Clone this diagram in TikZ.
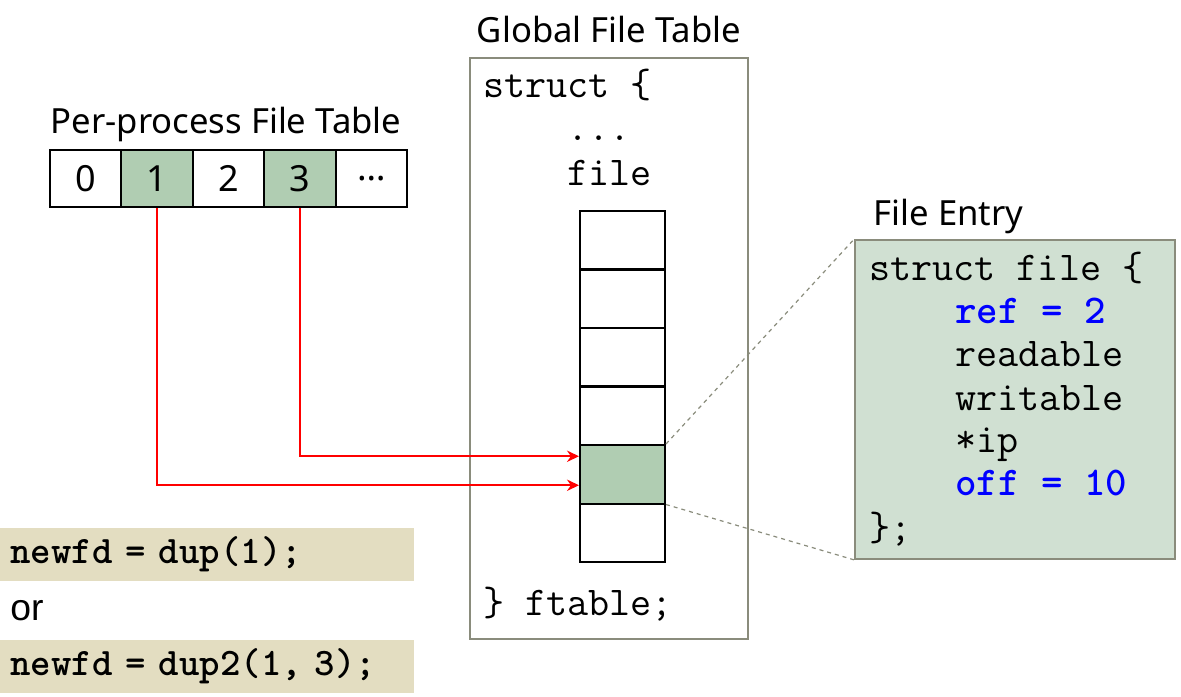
\documentclass[tikz,border=0pt]{standalone}
\usepackage{fontspec}
\setmainfont{Noto Sans}
\newfontfamily\arialfont{Liberation Sans}
\usetikzlibrary{arrows.meta, positioning}
\definecolor{fdc}{HTML}{B0CDB2}
\definecolor{entc}{HTML}{D0E0D2}
\definecolor{codec}{HTML}{E3DDC1}
\definecolor{framec}{HTML}{8A8C7C}
\definecolor{keyc}{HTML}{0000FF}

\begin{document}
\begin{tikzpicture}[>=Stealth, x=0.75pt, y=-0.75pt,
      title/.style={font=\fontsize{26}{30}\selectfont, anchor=base},
      fdcell/.style={draw=black, line width=1.5pt, minimum width=53.5pt,
                     minimum height=42.75pt, inner sep=0pt,
                     font=\fontsize{27}{30}\selectfont},
      ftcell/.style={draw=black, line width=1.5pt, minimum width=63.75pt,
                     minimum height=43.9pt, inner sep=0pt},
      frame/.style={draw=framec, line width=1.3pt, inner sep=0pt},
      code/.style={font=\ttfamily\fontsize{30.7}{32.4}\selectfont,
                   anchor=base west, inner sep=0pt, align=left},
      codebox/.style={fill=codec, anchor=west, minimum width=310.5pt,
                      minimum height=39.75pt, inner xsep=7.5pt, inner ysep=0pt,
                      text width=295.5pt, align=left,
                      font=\ttfamily\bfseries\fontsize{29.2}{30}\selectfont},
      key/.style={text=keyc, font=\ttfamily\bfseries\fontsize{30.7}{32.4}\selectfont},
      ar/.style={-{Stealth[length=9pt, width=8.5pt]}, red, line width=1.3pt}]
    \useasboundingbox (0,0) rectangle (1181,696);
    % per-process table
    \node[title] (ptitle) at (226,133) {Per-process File Table};
    \foreach \i/\x in {0/85.7, 1/157.1, 2/228.5, 3/299.9}{
      \node[fdcell] (p\i) at (\x,178.5) {\i};}
    \node[fdcell] (p4) at (371.3,178.5) {\dots};
    \foreach \i in {1,3}{
      \node[fdcell, fill=fdc] at (p\i) {\i};}
    % global file table
    \node[frame, minimum width=208.5pt, minimum height=435.75pt] (gft) at (609,348.5) {};
    \node[title] (gtitle) at (609,42) {Global File Table};
    \node[code] (gs) at (483,97) {struct \{};
    \node[code] (gd) at (567,140) {...};
    \node[code] (gf) at (567,185) {file};
    \node[code] (ge) at (483,615) {\} ftable;};
    \foreach \i/\y in {1/240.25, 2/298.75, 3/357.25, 4/415.75, 5/474.25, 6/532.75}{
      \node[ftcell] (g\i) at (622.5,\y) {};}
    \node[ftcell, fill=fdc] at (g5) {};
    % file entry
    \node[frame, fill=entc, minimum width=240pt, minimum height=239.25pt] (ent) at (1015,399.5) {};
    \node[title, anchor=base west] (etitle) at (869,225) {File Entry};
    \node[code] (e0) at (869,280) {struct file \{};
    \node[code, key] (e1) at (955,323) {ref = 2};
    \node[code] (e2) at (955,366) {readable};
    \node[code] (e3) at (955,410) {writable};
    \node[code] (e4) at (955,452) {*ip};
    \node[code, key] (e5) at (955,495) {off = 10};
    \node[code] (e6) at (869,540) {\};};
    \draw[framec, dashed, line width=0.9pt] (g5.north east) -- (ent.north west);
    \draw[framec, dashed, line width=0.9pt] (g5.south east) -- (ent.south west);
    % descriptors
    \draw[ar] (p1.south) |- ([yshift=-8.25pt]g5.west);
    \draw[ar] (p3.south) |- ([yshift=13.5pt]g5.west);
    % calls
    \node[codebox] (dup) at (0,554.5) {newfd = dup(1);};
    \node[anchor=base west, inner sep=0pt, font=\arialfont\fontsize{28}{30}\selectfont] (or) at (10,620) {or};
    \node[codebox] (dupb) at (0,666.5) {newfd = dup2(1, 3);};
  \end{tikzpicture}
\end{document}
